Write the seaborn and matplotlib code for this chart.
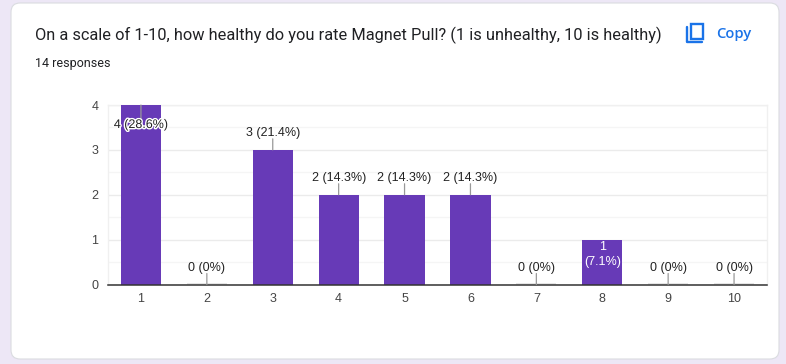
import numpy as np
import pandas as pd
import matplotlib
matplotlib.use('Agg')
import matplotlib.pyplot as plt
import matplotlib.patheffects as pe
from matplotlib.patches import FancyBboxPatch, Rectangle
from matplotlib.lines import Line2D
from matplotlib.transforms import Affine2D
import seaborn as sns

W, H = 786, 364
PURPLE = '#673ab7'

ratings = ['1', '2', '3', '4', '5', '6', '7', '8', '9', '10']
counts = [4, 0, 3, 2, 2, 2, 0, 1, 0, 0]
bar_labels = ['4 (28.6%)', '0 (0%)', '3 (21.4%)', '2 (14.3%)', '2 (14.3%)', '2 (14.3%)',
              '0 (0%)', '1\n(7.1%)', '0 (0%)', '0 (0%)']
title = 'On a scale of 1-10, how healthy do you rate Magnet Pull? (1 is unhealthy, 10 is healthy)'
subtitle = '14 responses'

sns.set_theme(style='white')
plt.rcParams['font.family'] = ['Liberation Sans', 'DejaVu Sans']

fig = plt.figure(figsize=(W / 100, H / 100), dpi=100, facecolor='#ede7f6')

# pixel helpers for the card furniture, y measured from the top
top_down = Affine2D().scale(1, -1).translate(0, H)
def px(x, y):
    return x / W, 1 - y / H

card = FancyBboxPatch((11, 3), 768, 356, boxstyle='round,pad=0,rounding_size=9',
                      transform=top_down, facecolor='white', edgecolor='#dadce0', linewidth=0.8, zorder=-1)
fig.add_artist(card)

ax = fig.add_axes([108 / W, 1 - 284.5 / H, 659 / W, 179.5 / H])
ax.set_facecolor('none')

df = pd.DataFrame({'rating': ratings, 'count': counts})
sns.barplot(data=df, x='rating', y='count', color=PURPLE, saturation=1, width=0.61, linewidth=0, ax=ax, zorder=3)

ax.set_xlim(-0.5, 9.5)
ax.set_ylim(0, 4)
ax.set_xlabel('')
ax.set_ylabel('')
ax.set_yticks(range(5))
ax.set_yticks(np.arange(0.5, 4, 1), minor=True)
ax.grid(True, axis='y', which='major', color='#ebebeb', linewidth=1, zorder=0)
ax.grid(True, axis='y', which='minor', color='#f5f5f5', linewidth=1, zorder=0)
ax.tick_params(axis='both', which='both', length=0, labelsize=9, labelcolor='#444444')
ax.tick_params(axis='x', pad=6)
ax.tick_params(axis='y', pad=7)
for s in ['top', 'left', 'right']:
    ax.spines[s].set_visible(True)
    ax.spines[s].set_color('#f0f0f0')
    ax.spines[s].set_linewidth(1)
ax.spines['bottom'].set_color('#333333')
ax.spines['bottom'].set_linewidth(1.1)
ax.spines['bottom'].set_zorder(5)

P = 0.72  # points per pixel
for bar, n, lab in zip(ax.patches, counts, bar_labels):
    cx = bar.get_x() + bar.get_width() / 2
    if n == 0:
        ax.hlines(0.02, bar.get_x(), bar.get_x() + bar.get_width(), color='#e2e2e2', linewidth=1.2, zorder=2)
    if n == 1:
        # short bar: label goes inside in white
        ax.annotate(lab, (cx, n), xytext=(0, -1 * P), textcoords='offset points', ha='center', va='top',
                    fontsize=9, color='white', zorder=6, linespacing=1.35)
        continue
    if n == 4:
        # tallest bar hits the top, leader and label go inside with a halo
        ax.annotate('', (cx, n), xytext=(0, -15 * P), textcoords='offset points',
                    arrowprops=dict(arrowstyle='-', color='#999999', lw=0.9, shrinkA=0, shrinkB=0), zorder=6)
        t = ax.annotate(lab, (cx, n), xytext=(0, -20 * P), textcoords='offset points', ha='center', va='center',
                        fontsize=9, color='#222222', zorder=6)
        t.set_path_effects([pe.withStroke(linewidth=2, foreground='white')])
        continue
    ax.annotate('', (cx, n), xytext=(0, 11 * P), textcoords='offset points',
                arrowprops=dict(arrowstyle='-', color='#999999', lw=0.9, shrinkA=0, shrinkB=0), zorder=6)
    ax.annotate(lab, (cx, n), xytext=(0, 16.5 * P), textcoords='offset points', ha='center', va='center',
                fontsize=9, color='#222222', zorder=6)

x, y = px(35, 35)
fig.text(x, y, title, family=['Roboto', 'DejaVu Sans'], fontsize=11.8, color='#202124', ha='left', va='center')
x, y = px(35, 63)
fig.text(x, y, subtitle, family=['Roboto', 'DejaVu Sans'], fontsize=9, color='#202124', ha='left', va='center')
x, y = px(716, 34)
fig.text(x, y, 'Copy', family=['Open Sans', 'DejaVu Sans'], fontsize=10.6, fontweight='semibold', color='#1a73e8', ha='left', va='center')

# copy icon
fig.add_artist(Rectangle((690.5, 24), 12, 15, fill=False, edgecolor='#1a73e8', linewidth=1.7, transform=top_down))
fig.add_artist(Line2D([687, 687, 702], [27, 42, 42], color='#1a73e8', linewidth=1.7, transform=top_down))

fig.savefig('out.png', dpi=100, facecolor=fig.get_facecolor())
